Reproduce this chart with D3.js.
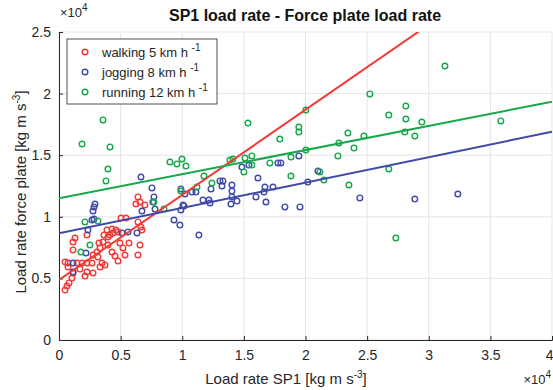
<!DOCTYPE html>
<html>
<head>
<meta charset="utf-8">
<script src="https://cdn.jsdelivr.net/npm/d3@7"></script>
<style>
  body { margin: 0; background: #fff; }
  svg { display: block; font-family: "Liberation Sans", Arial, Helvetica, sans-serif; }
</style>
</head>
<body>
<div id="chart"></div>
<script>
// values in units of 1e4 kg m s^-3
const walking = [
  [0.503, 0.990], [0.543, 0.990], [0.641, 1.161], [0.657, 1.120], [0.624, 1.104], [0.697, 1.096],
  [0.641, 0.958], [0.665, 0.917], [0.389, 0.893], [0.430, 0.901], [0.462, 0.893], [0.414, 0.852],
  [0.365, 0.852], [0.227, 0.852], [0.130, 0.828], [0.114, 0.795], [0.114, 0.731], [0.324, 0.787],
  [0.357, 0.795], [0.397, 0.836], [0.438, 0.869], [0.495, 0.787], [0.568, 0.787], [0.657, 0.771],
  [0.641, 0.690], [0.519, 0.747], [0.430, 0.714], [0.454, 0.682], [0.479, 0.641], [0.333, 0.747],
  [0.308, 0.714], [0.276, 0.690], [0.316, 0.674], [0.349, 0.625], [0.373, 0.609], [0.333, 0.593],
  [0.268, 0.625], [0.227, 0.625], [0.187, 0.625], [0.146, 0.625], [0.073, 0.625], [0.073, 0.593],
  [0.170, 0.576], [0.227, 0.552], [0.276, 0.544], [0.211, 0.519], [0.114, 0.544], [0.105, 0.503],
  [0.081, 0.463], [0.065, 0.438], [0.049, 0.406], [0.479, 0.877], [0.673, 0.893], [0.535, 0.690],
  [0.397, 0.771], [0.049, 0.633]
];
const jogging = [
  [0.114, 0.625], [0.114, 0.552], [0.219, 0.706], [0.235, 0.893], [0.268, 0.974], [0.284, 0.982],
  [0.292, 1.104], [0.284, 1.080], [0.276, 1.047], [0.511, 0.869], [0.560, 0.877], [0.633, 0.869],
  [0.665, 1.323], [0.673, 1.047], [0.754, 1.234], [0.770, 1.161], [0.762, 1.120], [0.779, 1.063],
  [0.933, 0.974], [0.981, 0.933], [0.989, 1.055], [1.014, 1.088], [0.989, 1.226], [1.022, 1.185],
  [1.006, 1.096], [1.079, 1.201], [1.111, 1.201], [1.135, 0.852], [1.168, 1.136], [1.217, 1.136],
  [1.225, 1.112], [1.233, 1.226], [1.306, 1.291], [1.330, 1.291], [1.322, 1.250], [1.403, 1.258],
  [1.403, 1.209], [1.403, 1.161], [1.444, 1.128], [1.395, 1.104], [1.484, 1.404], [1.541, 1.420],
  [1.598, 1.161], [1.614, 1.315], [1.671, 1.242], [1.736, 1.242], [1.663, 1.201], [1.679, 1.120],
  [1.776, 1.437], [1.800, 1.437], [1.833, 1.080], [1.946, 1.494], [1.955, 1.080], [2.019, 1.282],
  [2.101, 1.372], [2.441, 1.153], [2.887, 1.144], [3.236, 1.185]
];
const running = [
  [0.357, 1.786], [0.187, 1.591], [0.414, 1.567], [0.397, 1.388], [0.381, 1.291], [0.211, 0.958],
  [0.316, 0.966], [0.251, 0.771], [0.178, 0.714], [0.770, 1.120], [0.852, 1.063], [0.900, 1.445],
  [0.957, 1.429], [0.998, 1.469], [1.030, 1.412], [0.989, 1.209], [1.119, 1.242], [1.176, 1.331],
  [1.241, 1.274], [1.387, 1.461], [1.411, 1.469], [1.509, 1.477], [1.565, 1.494], [1.565, 1.420],
  [1.500, 1.364], [1.533, 1.761], [1.711, 1.437], [1.792, 1.631], [1.882, 1.485], [1.882, 1.331],
  [1.946, 1.729], [1.946, 1.688], [2.003, 1.867], [2.003, 1.542], [2.271, 1.599], [2.263, 1.494],
  [2.393, 1.558], [2.344, 1.680], [2.474, 1.656], [2.117, 1.364], [2.149, 1.299], [2.352, 1.258],
  [2.522, 1.997], [2.676, 1.826], [2.814, 1.899], [2.814, 1.794], [2.944, 1.769], [2.806, 1.688],
  [2.887, 1.656], [2.676, 1.388], [2.733, 0.828], [3.131, 2.224], [3.585, 1.778]
];
// linear fits: [intercept, slope]
const walkingFit = [0.487, 0.691];
const joggingFit = [0.866, 0.206];
const runningFit = [1.150, 0.196];

const xTicks = [0, 0.5, 1, 1.5, 2, 2.5, 3, 3.5, 4];
const yTicks = [0, 0.5, 1, 1.5, 2, 2.5];

const series = [
  { name: 'walking 5 km h', data: walking, fit: walkingFit, color: '#f23b36' },
  { name: 'jogging 8 km h', data: jogging, fit: joggingFit, color: '#3f4aa8' },
  { name: 'running 12 km h', data: running, fit: runningFit, color: '#16a84a' }
];

const W = 553, H = 390;
const margin = { top: 32, right: 1, bottom: 50, left: 59 };
const width = W - margin.left - margin.right;
const height = H - margin.top - margin.bottom;
const textColor = '#262626';

const svg = d3.select('#chart').append('svg').attr('width', W).attr('height', H);

svg.append('defs').append('clipPath').attr('id', 'clip')
  .append('rect').attr('width', width).attr('height', height);

const g = svg.append('g').attr('transform', 'translate(' + margin.left + ',' + margin.top + ')');

const x = d3.scaleLinear().domain([0, 4]).range([0, width]);
const y = d3.scaleLinear().domain([0, 2.5]).range([height, 0]);

// grid
g.append('g').selectAll('line').data(xTicks).join('line')
  .attr('x1', d => x(d)).attr('x2', d => x(d)).attr('y1', 0).attr('y2', height)
  .attr('stroke', '#e5e5e5').attr('stroke-width', 1);
g.append('g').selectAll('line').data(yTicks).join('line')
  .attr('x1', 0).attr('x2', width).attr('y1', d => y(d)).attr('y2', d => y(d))
  .attr('stroke', '#e5e5e5').attr('stroke-width', 1);

// axes
const xAxis = g.append('g').attr('transform', 'translate(0,' + height + ')')
  .call(d3.axisBottom(x).tickValues(xTicks).tickSize(-4).tickPadding(10).tickFormat(d3.format('')));
const yAxis = g.append('g')
  .call(d3.axisLeft(y).tickValues(yTicks).tickSize(-4).tickPadding(8).tickFormat(d3.format('')));
[xAxis, yAxis].forEach(a => {
  a.select('.domain').attr('stroke', textColor);
  a.selectAll('.tick line').attr('stroke', textColor);
  a.selectAll('.tick text').attr('fill', textColor).style('font-size', '14px');
});
// keep the last x label inside the picture
xAxis.selectAll('.tick text').filter(d => d === 4).attr('text-anchor', 'end').attr('dx', 1);

// markers and fits
const plot = g.append('g').attr('clip-path', 'url(#clip)');
series.forEach(s => {
  plot.append('g').selectAll('circle').data(s.data).join('circle')
    .attr('cx', d => x(d[0])).attr('cy', d => y(d[1])).attr('r', 2.8)
    .attr('fill', 'none').attr('stroke', s.color).attr('stroke-width', 1.4);
});
series.forEach(s => {
  const line = d3.line().x(d => x(d)).y(d => y(s.fit[0] + s.fit[1] * d));
  plot.append('path').datum([0, 4]).attr('d', line)
    .attr('fill', 'none').attr('stroke', s.color).attr('stroke-width', 2);
});

// exponent labels
function expLabel(sel, px, py, anchor) {
  const t = sel.append('text').attr('x', px).attr('y', py).attr('text-anchor', anchor)
    .attr('fill', textColor).style('font-size', '13px');
  t.append('tspan').text('\u00d710');
  t.append('tspan').attr('dy', -6).style('font-size', '10px').text('4');
}
expLabel(svg, margin.left + 1, 17, 'start');
expLabel(svg, W - 2, 384, 'end');

// title
svg.append('text').attr('x', 305).attr('y', 21).attr('text-anchor', 'middle')
  .attr('fill', '#111').style('font-size', '16px').style('font-weight', 'bold')
  .text('SP1 load rate - Force plate load rate');

// axis labels
function unitLabel(t, pre) {
  t.append('tspan').text(pre + ' [kg m s');
  t.append('tspan').attr('dy', -6).style('font-size', '10px').text('-3');
  t.append('tspan').attr('dy', 6).text(']');
}
const xl = svg.append('text').attr('x', 286).attr('y', 384)
  .attr('text-anchor', 'middle').attr('fill', textColor).style('font-size', '15px');
unitLabel(xl, 'Load rate SP1');
const yl = svg.append('text')
  .attr('transform', 'translate(26,' + (margin.top + height / 2 + 6) + ') rotate(-90)')
  .attr('text-anchor', 'middle').attr('fill', textColor).style('font-size', '15px');
unitLabel(yl, 'Load rate force plate');

// legend
const lg = svg.append('g').attr('transform', 'translate(67,39)');
lg.append('rect').attr('width', 150).attr('height', 65)
  .attr('fill', '#fff').attr('stroke', '#262626').attr('stroke-width', 0.8);
series.forEach((s, i) => {
  const cy = 13 + i * 20;
  lg.append('circle').attr('cx', 18).attr('cy', cy).attr('r', 2.8)
    .attr('fill', 'none').attr('stroke', s.color).attr('stroke-width', 1.4);
  const t = lg.append('text').attr('x', 35).attr('y', cy + 4.5)
    .attr('fill', textColor).style('font-size', '13px');
  t.append('tspan').text(s.name + ' ');
  t.append('tspan').attr('dy', -6).style('font-size', '10px').text('-1');
});
</script>
</body>
</html>
